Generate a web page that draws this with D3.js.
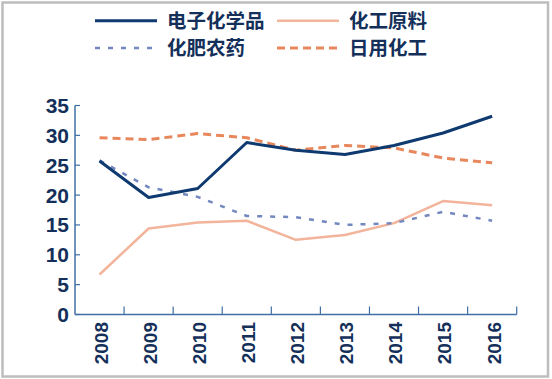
<!DOCTYPE html>
<html><head><meta charset="utf-8">
<script src="https://cdn.jsdelivr.net/npm/d3@7"></script>
<style>body{margin:0;background:#fff}svg{display:block}</style>
</head><body>
<svg id="c" width="552" height="379"></svg>
<script>
const years = ["2008","2009","2010","2011","2012","2013","2014","2015","2016"];
const electronic = [25.7,19.6,21.1,28.8,27.5,26.8,28.3,30.4,33.2];
const rawMaterial = [6.7,14.4,15.4,15.7,12.5,13.3,15.3,19.0,18.3];
const fertilizer = [25.8,21.3,19.7,16.5,16.3,15.0,15.3,17.2,15.7];
const daily = [29.6,29.3,30.3,29.6,27.5,28.3,27.9,26.2,25.4];
const seriesNames = ["电子化学品","化工原料","化肥农药","日用化工"];
const yTicks = [0,5,10,15,20,25,30,35];

const svg = d3.select("#c");
const navy = "#14305a", axisCol = "#3f6fa3";
const styles = [
  {c:"#0e3a70", w:3, dash:null},
  {c:"#f2b49b", w:2.5, dash:null},
  {c:"#7388bf", w:2.5, dash:"5,8"},
  {c:"#e9875c", w:3, dash:"8,5"}
];
const data = [electronic, rawMaterial, fertilizer, daily];

// frame
svg.append("rect").attr("x",2.5).attr("y",2.5).attr("width",545.5).attr("height",374)
  .attr("fill","none").attr("stroke","#bdbdbd").attr("stroke-width",2.5);

const x = d3.scaleBand().domain(years).range([75,516.7]);
const y = d3.scaleLinear().domain([0,35]).range([314.5,105.5]);

// y axis
svg.append("line").attr("x1",75).attr("x2",75).attr("y1",y(35)).attr("y2",y(0))
  .attr("stroke",axisCol).attr("stroke-width",1.5);
svg.selectAll(".yt").data(yTicks).enter().append("line")
  .attr("x1",75).attr("x2",80).attr("y1",d=>y(d)).attr("y2",d=>y(d))
  .attr("stroke",axisCol).attr("stroke-width",1.2);
svg.selectAll(".yl").data(yTicks).enter().append("text")
  .attr("x",69).attr("y",d=>y(d)).attr("dy","0.36em").attr("text-anchor","end")
  .attr("font-family","Liberation Sans, Arial, sans-serif").attr("font-weight","bold")
  .attr("font-size",21).attr("fill",navy).text(d=>d);

// x axis
svg.append("line").attr("x1",75).attr("x2",516.7).attr("y1",y(0)).attr("y2",y(0))
  .attr("stroke",axisCol).attr("stroke-width",1.5);
const xt = years.map(v=>x(v)+x.bandwidth());
svg.selectAll(".xt").data(xt).enter().append("line")
  .attr("x1",d=>d).attr("x2",d=>d).attr("y1",y(0)).attr("y2",y(0)-8)
  .attr("stroke",axisCol).attr("stroke-width",1.2);
svg.selectAll(".xl").data(years).enter().append("text")
  .attr("transform",d=>`translate(${x(d)+x.bandwidth()/2+1.5},322) rotate(-90)`)
  .attr("text-anchor","end").attr("dy","0.36em")
  .attr("font-family","Liberation Sans, Arial, sans-serif").attr("font-weight","bold")
  .attr("font-size",19).attr("fill",navy).text(d=>d);

// lines
const line = d3.line().x((d,i)=>x(years[i])+x.bandwidth()/2).y(d=>y(d));
const order = [1,2,3,0];
order.forEach(k=>{
  svg.append("path").attr("d",line(data[k])).attr("fill","none")
    .attr("stroke",styles[k].c).attr("stroke-width",styles[k].w)
    .attr("stroke-dasharray",styles[k].dash).attr("stroke-linejoin","round");
});

// legend
const leg = [
  {x:95, y:20.7},{x:277, y:20.7},{x:95, y:48},{x:277, y:48}
];
leg.forEach((p,k)=>{
  svg.append("line").attr("x1",p.x).attr("x2",p.x+62).attr("y1",p.y).attr("y2",p.y)
    .attr("stroke",styles[k].c).attr("stroke-width",styles[k].w)
    .attr("stroke-dasharray",styles[k].dash);
  svg.append("text").attr("x",p.x+72).attr("y",p.y).attr("dy","0.36em")
    .attr("font-family","Noto Sans CJK SC, sans-serif").attr("font-weight","bold")
    .attr("font-size",19.5).attr("fill",navy).text(seriesNames[k]);
});
</script>
</body></html>
